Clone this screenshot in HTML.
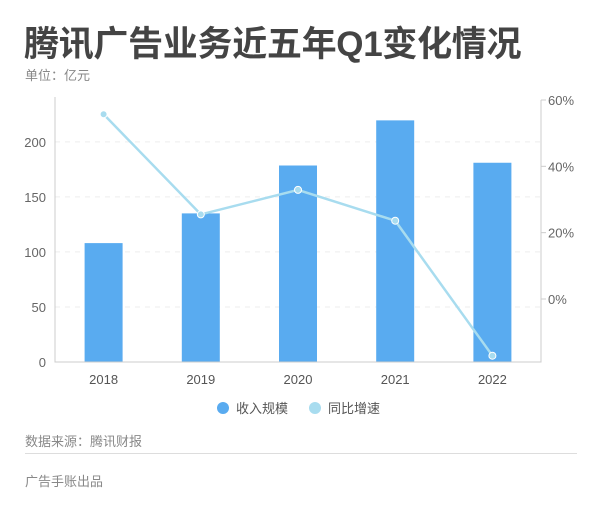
<!DOCTYPE html>
<html><head><meta charset="utf-8"><style>
body{margin:0;width:600px;height:510px;background:#fff;overflow:hidden;font-family:"Liberation Sans","Noto Sans CJK SC",sans-serif;}
.t{position:absolute;white-space:nowrap;}
</style></head><body>
<div class="t" style="left:24px;top:16px;font-size:35px;font-weight:bold;color:#444;letter-spacing:-0.3px;">腾讯广告业务近五年Q1变化情况</div>
<div class="t" style="left:25px;top:65px;font-size:13px;color:#888;">单位：亿元</div>
<svg id="c" width="600" height="510" style="position:absolute;left:0;top:0;"></svg>
<div class="t" style="left:25px;top:431px;font-size:13px;color:#888;">数据来源：腾讯财报</div>
<div style="position:absolute;left:25px;top:453px;width:552px;height:1px;background:#ddd;"></div>
<div class="t" style="left:25px;top:471px;font-size:13px;color:#888;">广告手账出品</div>
<script>
const categories=["2018","2019","2020","2021","2022"];
const revenue=[108,135,178.5,219.5,181];
const growth=[55.7,25.5,32.9,23.6,-17.1];
const leftTicks=[0,50,100,150,200];
const rightTicks=[0,20,40,60];
const NS="http://www.w3.org/2000/svg";
const svg=document.getElementById('c');
const X0=55,X1=541,Y0=362,Y1=100;
const yL=v=>Y0-(v/238)*(Y0-Y1);
const yR=v=>Y0-((v+19)/79)*(Y0-Y1);
const band=(X1-X0)/categories.length;
const xC=i=>X0+band*(i+0.5);
function mk(t,a){const e=document.createElementNS(NS,t);for(const k in a)e.setAttribute(k,a[k]);svg.appendChild(e);return e;}
leftTicks.forEach(v=>{
  if(v>0){const g=mk('line',{x1:X0,x2:X1,y1:yL(v),y2:yL(v),stroke:'#eee','stroke-dasharray':'5,5'});
  
  }
  const t=mk('text',{x:46,y:yL(v)+5,'text-anchor':'end','font-size':13,fill:'#666'});t.textContent=v;
  
  
});
rightTicks.forEach(v=>{
  mk('line',{x1:X1,x2:X1+5,y1:yR(v),y2:yR(v),stroke:'#ccc'});
  const t=mk('text',{x:548,y:yR(v)+5,'font-size':13,fill:'#666'});t.textContent=v+'%';
  
  
});
categories.forEach((c,i)=>{
  const r=mk('rect',{x:xC(i)-19,y:yL(revenue[i]),width:38,height:Y0-yL(revenue[i]),fill:'#59abf0'});
  
  
  const t=mk('text',{x:xC(i),y:384,'text-anchor':'middle','font-size':13,fill:'#555'});t.textContent=c;
  
  
});
const ax=mk('path',{d:`M${X0} ${Y1-3}V${Y0}H${X1}V${Y1}`,stroke:'#ccc',fill:'none'});


const ln=mk('polyline',{points:growth.map((g,i)=>xC(i)+','+yR(g)).join(' '),fill:'none',stroke:'#a8dcef','stroke-width':2.5});


growth.forEach((g,i)=>{
  const p=mk('circle',{cx:xC(i),cy:yR(g),r:3.5,fill:'#a8dcef',stroke:'#fff','stroke-width':1});
  
  
});
const lg=[["收入规模","#59abf0",223],["同比增速","#a8dcef",315]];
lg.forEach(l=>{
  const c=mk('circle',{cx:l[2],cy:408,r:6,fill:l[1]});
  
  
  const t=mk('text',{x:l[2]+13,y:413,'font-size':13,fill:'#555'});t.textContent=l[0];
  
  
});
</script>
</body></html>
